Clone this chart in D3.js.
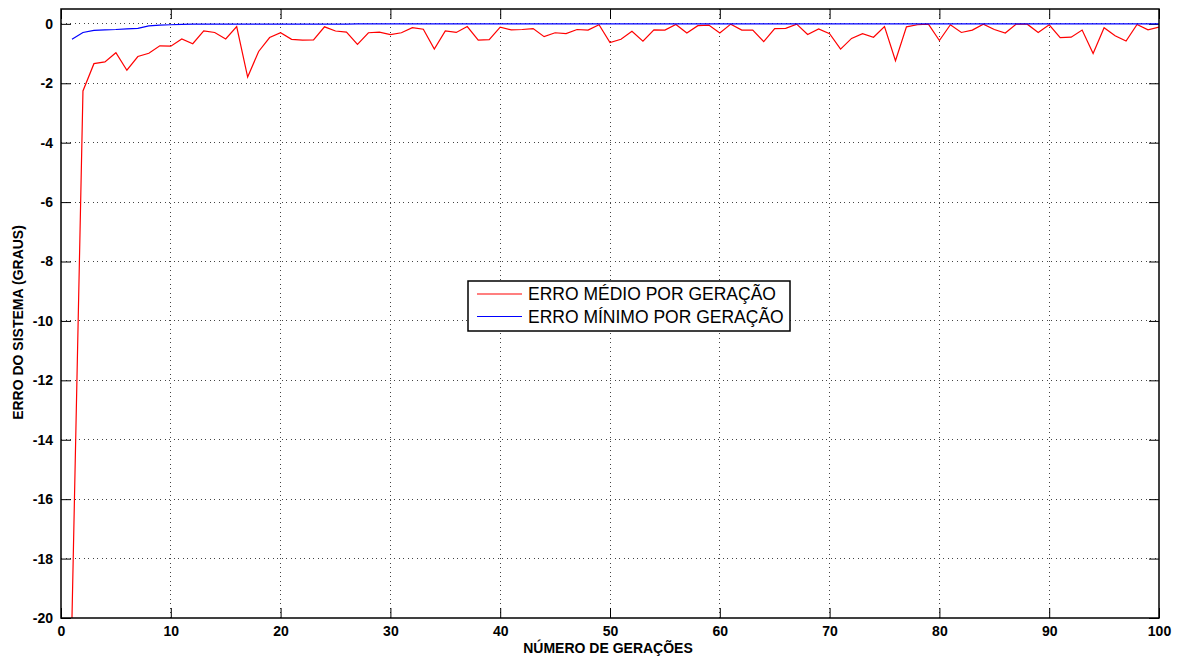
<!DOCTYPE html>
<meta charset="utf-8">
<style>
  body { margin: 0; background: #fff; }
  text { font-family: "Liberation Sans", Arial, sans-serif; }
</style>
<script src="https://cdn.jsdelivr.net/npm/d3@7"></script>
<body>
<div id="chart"></div>
</body>
<script>
// generations 1..100
var generations = d3.range(1, 101);

// mean error per generation (red)
var erroMedio = [
  -20.0, -2.26, -1.34, -1.28, -0.97, -1.56, -1.10, -0.99, -0.74, -0.75,
  -0.51, -0.67, -0.24, -0.29, -0.51, -0.09, -1.79, -0.93, -0.46, -0.30,
  -0.52, -0.55, -0.54, -0.10, -0.24, -0.28, -0.69, -0.30, -0.28, -0.36,
  -0.30, -0.13, -0.18, -0.85, -0.24, -0.29, -0.09, -0.55, -0.53, -0.11,
  -0.20, -0.19, -0.16, -0.43, -0.30, -0.33, -0.19, -0.21, -0.03, -0.63,
  -0.52, -0.25, -0.58, -0.20, -0.21, -0.02, -0.31, -0.06, -0.04, -0.31,
  -0.01, -0.21, -0.21, -0.60, -0.16, -0.15, -0.01, -0.36, -0.17, -0.33,
  -0.85, -0.49, -0.33, -0.45, -0.09, -1.24, -0.10, -0.03, -0.01, -0.56,
  -0.03, -0.29, -0.21, -0.01, -0.19, -0.31, -0.01, -0.01, -0.29, -0.03,
  -0.46, -0.45, -0.21, -1.00, -0.13, -0.40, -0.58, -0.02, -0.20, -0.11
];

// minimum error per generation (blue)
var erroMinimo = [
  -0.52, -0.29, -0.22, -0.20, -0.19, -0.17, -0.15, -0.07, -0.04, -0.03,
  -0.02, -0.01, -0.01, -0.01, -0.01, -0.01, -0.01, -0.01, -0.01, -0.01,
  -0.01, -0.01, -0.01, -0.01, -0.01, -0.01, 0, 0, 0, 0,
  0, 0, 0, 0, 0, 0, 0, 0, 0, 0,
  0, 0, 0, 0, 0, 0, 0, 0, 0, 0,
  0, 0, 0, 0, 0, 0, 0, 0, 0, 0,
  0, 0, 0, 0, 0, 0, 0, 0, 0, 0,
  0, 0, 0, 0, 0, 0, 0, 0, 0, 0,
  0, 0, 0, 0, 0, 0, 0, 0, 0, 0,
  0, 0, 0, 0, 0, 0, 0, 0, 0, 0
];

var xTicks = d3.range(0, 101, 10);
var yTicks = d3.range(-20, 1, 2);
var legendLabels = ["ERRO MÉDIO POR GERAÇÃO", "ERRO MÍNIMO POR GERAÇÃO"];
var seriesColors = ["#ff0000", "#0000ff"];

var margin = {top: 9, right: 22, bottom: 38, left: 61},
    width = 1181 - margin.left - margin.right,
    height = 657 - margin.top - margin.bottom - 1;

var svg = d3.select("#chart")
  .append("svg")
    .attr("width", 1181)
    .attr("height", 657)
  .append("g")
    .attr("transform", "translate(" + margin.left + "," + margin.top + ")");

var x = d3.scaleLinear().domain([0, 100]).range([0, width]);
var y = d3.scaleLinear().domain([-20, 0.5]).range([height, 0]);

// plain hyphen minus, like the original
var fmt = function(d) { return String(d); };

// dotted grid
svg.append("g")
  .selectAll("line")
  .data(xTicks.slice(1, -1))
  .enter().append("line")
    .attr("x1", function(d) { return x(d); })
    .attr("x2", function(d) { return x(d); })
    .attr("y1", 0).attr("y2", height)
    .attr("stroke", "#444").attr("stroke-width", 1)
    .attr("stroke-dasharray", "1,3.5")
    .attr("shape-rendering", "crispEdges");
svg.append("g")
  .selectAll("line")
  .data(yTicks.slice(1))
  .enter().append("line")
    .attr("y1", function(d) { return y(d); })
    .attr("y2", function(d) { return y(d); })
    .attr("x1", 0).attr("x2", width)
    .attr("stroke", "#444").attr("stroke-width", 1)
    .attr("stroke-dasharray", "1,3.5")
    .attr("shape-rendering", "crispEdges");

// axes (ticks inside, on all four sides)
function styleAxis(g) {
  g.select(".domain").remove();
  g.selectAll(".tick line").attr("stroke", "#000");
  g.selectAll("text")
    .style("font-family", "'Liberation Sans', Arial, sans-serif")
    .style("font-size", "14px")
    .style("font-weight", "bold")
    .attr("fill", "#000");
}
svg.append("g")
  .attr("transform", "translate(0," + height + ")")
  .call(d3.axisBottom(x).tickValues(xTicks).tickSizeInner(-10).tickPadding(8).tickFormat(fmt))
  .call(styleAxis);
svg.append("g")
  .call(d3.axisLeft(y).tickValues(yTicks).tickSizeInner(-10).tickPadding(8).tickFormat(fmt))
  .call(styleAxis);
svg.append("g")
  .call(d3.axisTop(x).tickValues(xTicks).tickSizeInner(-10).tickFormat(""))
  .call(styleAxis);
svg.append("g")
  .attr("transform", "translate(" + width + ",0)")
  .call(d3.axisRight(y).tickValues(yTicks).tickSizeInner(-10).tickFormat(""))
  .call(styleAxis);

// clip
svg.append("defs").append("clipPath")
  .attr("id", "clip")
  .append("rect")
    .attr("width", width).attr("height", height);

var line = d3.line()
  .x(function(d, i) { return x(generations[i]); })
  .y(function(d) { return y(d); });

var plot = svg.append("g").attr("clip-path", "url(#clip)");
plot.append("path")
  .datum(erroMedio)
  .attr("fill", "none")
  .attr("stroke", seriesColors[0])
  .attr("stroke-width", 1.2)
  .attr("d", line);
plot.append("path")
  .datum(erroMinimo)
  .attr("fill", "none")
  .attr("stroke", seriesColors[1])
  .attr("stroke-width", 1.2)
  .attr("d", line);

// box
svg.append("rect")
  .attr("width", width).attr("height", height)
  .attr("fill", "none").attr("stroke", "#000").attr("stroke-width", 1.5);

// axis labels
svg.append("text")
  .attr("x", x(50) - 2)
  .attr("y", height + 35)
  .attr("text-anchor", "middle")
  .style("font-size", "14px")
  .style("font-weight", "bold")
  .text("NÚMERO DE GERAÇÕES");
svg.append("text")
  .attr("transform", "translate(" + (-38) + "," + (height / 2 + 9) + ") rotate(-90)")
  .attr("text-anchor", "middle")
  .style("font-size", "14px")
  .style("font-weight", "bold")
  .text("ERRO DO SISTEMA (GRAUS)");

// legend
var legend = svg.append("g")
  .attr("transform", "translate(" + (468 - margin.left) + "," + (281 - margin.top) + ")");
legend.append("rect")
  .attr("width", 322).attr("height", 50)
  .attr("fill", "#fff").attr("stroke", "#000").attr("stroke-width", 1.5);
legendLabels.forEach(function(lbl, i) {
  var ly = 13 + i * 22.5;
  legend.append("line")
    .attr("x1", 9).attr("x2", 54)
    .attr("y1", ly).attr("y2", ly)
    .attr("stroke", seriesColors[i]).attr("stroke-width", 1.2);
  legend.append("text")
    .attr("x", 60).attr("y", ly + 6)
    .style("font-size", "17.5px")
    .text(lbl);
});
</script>
</html>
